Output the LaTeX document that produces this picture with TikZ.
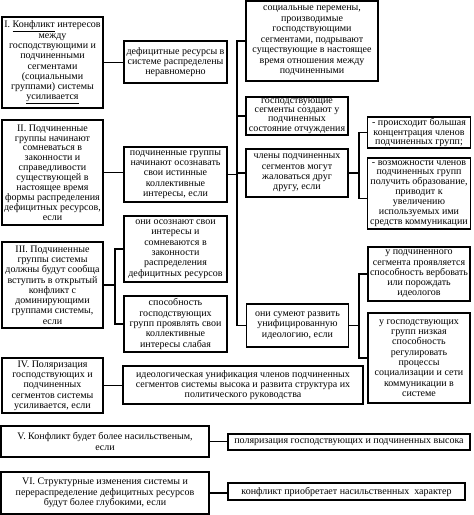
\documentclass[tikz,border=0pt]{standalone}
\usepackage{fontspec}
\setmainfont{Liberation Serif}
\begin{document}
\begin{tikzpicture}[x=1pt,y=-1pt,
  box/.style={draw, line width=1.5pt, align=center, inner sep=0.5pt,
    font=\fontsize{10}{10.3}\selectfont},
  tight/.style={font=\fontsize{10}{9.2}\selectfont},
  mid/.style={font=\fontsize{10}{9.9}\selectfont},
  mainbox/.style={box, line width=2pt},
  conn/.style={line width=1.5pt}]
\useasboundingbox (0,0) rectangle (474,515);
% left column
\node[mainbox, minimum width=101pt, minimum height=91pt] (A) at (52.5,62.5)
 {I. \underline{Конфликт} интересов\\ между\\ господствующими и\\ подчиненными\\ сегментами\\ (социальными\\ группами) системы\\ \underline{усиливается}};
\node[mainbox, mid, minimum width=101pt, minimum height=105pt] (H) at (52.5,172.5)
 {II. Подчиненные\\ группы начинают\\ сомневаться в\\ законности и\\ справедливости\\ существующей в\\ настоящее время\\ формы распределения\\ дефицитных ресурсов,\\ если};
\node[mainbox, minimum width=101pt, minimum height=86pt] (K) at (52.5,285)
 {III. Подчиненные\\ группы системы\\ должны будут сообща\\ вступить в открытый\\ конфликт с\\ доминирующими\\ группами системы,\\ если};
\node[mainbox, minimum width=101pt, minimum height=55pt] (Q) at (52.5,385.5)
 {IV. Поляризация\\ господствующих и\\ подчиненных\\ сегментов системы\\ усиливается, если};
\node[mainbox, minimum width=208pt, minimum height=31pt] (S) at (105,441.5)
 {V. Конфликт будет более насильственым,\\ если};
\node[mainbox, minimum width=208pt, minimum height=42pt] (U) at (105,493)
 {VI. Структурные изменения системы и\\ перераспределение дефицитных ресурсов\\ будут более глубокими, если};
% second column
\node[box, minimum width=103pt, minimum height=42pt] (B) at (175.5,62)
 {дефицитные ресурсы в\\ системе распределены\\ неравномерно};
\node[box, minimum width=103pt, minimum height=55pt] (J) at (175.5,174.5)
 {подчиненные группы\\ начинают осознавать\\ свои истинные\\ коллективные\\ интересы, если};
\node[box, minimum width=103pt, minimum height=66pt] (L) at (175.5,249)
 {они осознают свои\\ интересы и\\ сомневаются в\\ законности\\ распределения\\ дефицитных ресурсов};
\node[box, minimum width=103pt, minimum height=56pt] (M) at (175.5,324)
 {способность\\ господствующих\\ групп проявлять свои\\ коллективные\\ интересы слабая};
\node[box, minimum width=240pt, minimum height=38pt] (R) at (243,385)
 {идеологическая унификация членов подчиненных\\ сегментов системы высока и развита структура их\\ политического руководства};
\node[box, minimum width=242pt, minimum height=16pt] (T) at (349,442)
 {поляризация господствующих и подчиненных высока};
\node[box, minimum width=237pt, minimum height=17pt] (V) at (346.5,491.5)
 {конфликт приобретает насильственных\ \ характер};
% third column
\node[box, font=\fontsize{10}{10.5}\selectfont, minimum width=132pt, minimum height=80pt] (C) at (312,41)
 {социальные перемены,\\ производимые\\ господствующими\\ сегментами, подрывают\\ существующие в настоящее\\ время отношения между\\ подчиненными};
\node[box, tight, minimum width=102pt, minimum height=38pt] (D) at (297,116)
 {господствующие\\ сегменты создают у\\ подчиненных\\ состояние отчуждения};
\node[box, minimum width=102pt, minimum height=48pt] (E) at (297,173)
 {члены подчиненных\\ сегментов могут\\ жаловаться друг\\ другу, если};
\node[box, minimum width=102pt, minimum height=43pt] (N) at (297.5,325.5)
 {они сумеют развить\\ унифицированную\\ идеологию, если};
% fourth column
\node[box, tight, minimum width=103pt, minimum height=31pt] (F) at (419,132.5)
 {- происходит большая\\ концентрация членов\\ подчиненных групп;};
\node[box, mid, minimum width=103pt, minimum height=71pt] (G) at (419,193.5)
 {- возможности членов\\ подчиненных групп\\ получить образование,\\ приводит к\\ увеличению\\ используемых ими\\ средств коммуникации};
\node[box, minimum width=102pt, minimum height=54pt] (O) at (419,274)
 {у подчиненного\\ сегмента проявляется\\ способность вербовать\\ или порождать\\ идеологов};
\node[box, minimum width=102pt, minimum height=90pt] (P) at (419,358)
 {у господствующих\\ групп низкая\\ способность\\ регулировать\\ процессы\\ социализации и сети\\ коммуникации в\\ системе};
% bus coordinates
\coordinate (bus) at (237,0);
\coordinate (br) at (359,0);
\coordinate (bl) at (115,0);
% connectors
\draw[conn] (A.east) -- (A.east -| B.west);
\draw[conn] (H.east) -- (H.east -| J.west);
\draw[conn] (J.east) -- (J.east -| bus);
\draw[conn] (C.west) -- (C.west -| bus) -- (N.west -| bus) -- (N.west);
\draw[conn] (D.west) -- (D.west -| bus);
\draw[conn] (E.west) -- (E.west -| bus);
\draw[conn] (E.east) -- (E.east -| br);
\draw[conn] (F.west) -- (F.west -| br) |- ([yshift=-5pt]G.west);
\draw[conn] (N.east) -- (N.east -| br);
\draw[conn] (O.west) -- (O.west -| br) |- (P.west);
\draw[conn] (K.east) -- (K.east -| bl);
\draw[conn] (L.west) -- (L.west -| bl) |- (M.west);
\draw[conn] (Q.east) -- (Q.east -| R.west);
\draw[conn] (S.east) -- (S.east -| T.west);
\draw[conn] (U.east) -- (U.east -| V.west);
\end{tikzpicture}
\end{document}
